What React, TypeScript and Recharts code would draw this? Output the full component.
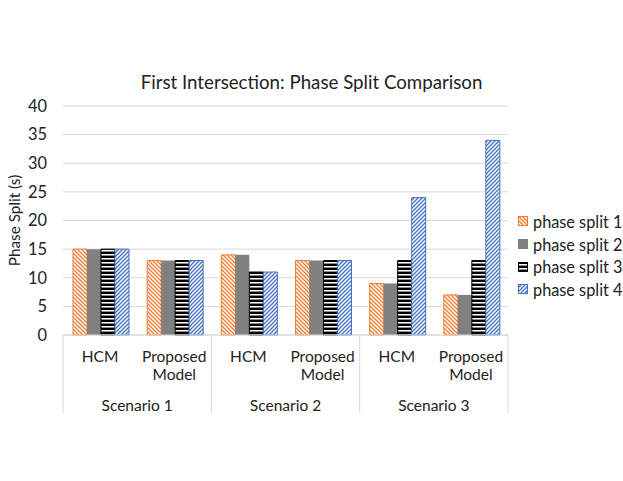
import React from "react";
import { BarChart, Bar, XAxis, YAxis, CartesianGrid } from "recharts";

const categories = ["HCM", "Proposed Model", "HCM", "Proposed Model", "HCM", "Proposed Model"];
const scenarios = ["Scenario 1", "Scenario 2", "Scenario 3"];
const phaseSplit1 = [15, 13, 14, 13, 9, 7];
const phaseSplit2 = [15, 13, 14, 13, 9, 7];
const phaseSplit3 = [15, 13, 11, 13, 13, 13];
const phaseSplit4 = [15, 13, 11, 13, 24, 34];
const yTicks = [0, 5, 10, 15, 20, 25, 30, 35, 40];
const seriesNames = ["phase split 1", "phase split 2", "phase split 3", "phase split 4"];

const data = categories.map((c, i) => ({
  name: c,
  scenario: scenarios[Math.floor(i / 2)],
  p1: phaseSplit1[i],
  p2: phaseSplit2[i],
  p3: phaseSplit3[i],
  p4: phaseSplit4[i],
}));

const W = 623;
const H = 481;
const PLOT_LEFT = 63;
const PLOT_RIGHT = 508;
const PLOT_TOP = 106;
const PLOT_BOTTOM = 335;
const BAND = (PLOT_RIGHT - PLOT_LEFT) / categories.length;
const FONT = "Lato, 'Open Sans', sans-serif";
const TEXT = "#222222";
const GRID = "#d9d9d9";
const ORANGE = "#ED7D31";
const BLUE = "#4472C4";

const Patterns = () => (
  <defs>
    <pattern id="pOrange" patternUnits="userSpaceOnUse" width="4" height="4">
      <rect width="4" height="4" fill="#fff" />
      <path d="M-1,-1 L5,5 M3,-1 L5,1 M-1,3 L1,5" stroke={ORANGE} strokeWidth="1.3" />
    </pattern>
    <pattern id="pBlue" patternUnits="userSpaceOnUse" width="4" height="4">
      <rect width="4" height="4" fill="#fff" />
      <path d="M-1,5 L5,-1 M-1,1 L1,-1 M3,5 L5,3" stroke={BLUE} strokeWidth="1.3" />
    </pattern>
    <pattern id="pBlack" patternUnits="userSpaceOnUse" width="4" height="4">
      <rect width="4" height="4" fill="#fff" />
      <rect y="0" width="4" height="2" fill="#000" />
      <rect y="3" width="4" height="1" fill="#888" />
    </pattern>
  </defs>
);

const CategoryTick = (props: any) => {
  const { x, payload, index } = props;
  const lines = String(payload.value).split(" ");
  const els: any[] = [];
  lines.forEach((ln, k) => {
    els.push(
      <text key={"t" + k} x={x} y={PLOT_BOTTOM + 27 + k * 18} textAnchor="middle" fill={TEXT} fontSize={15.5} fontFamily={FONT}>
        {ln}
      </text>
    );
  });
  if (index % 2 === 0) {
    els.push(
      <line key="l" x1={x - BAND / 2} x2={x - BAND / 2} y1={PLOT_BOTTOM} y2={PLOT_BOTTOM + 78} stroke={GRID} />
    );
    els.push(
      <text key="s" x={x + BAND / 2} y={PLOT_BOTTOM + 76} textAnchor="middle" fill={TEXT} fontSize={15.5} fontFamily={FONT}>
        {scenarios[Math.floor(index / 2)]}
      </text>
    );
  }
  if (index === categories.length - 1) {
    els.push(
      <line key="r" x1={x + BAND / 2} x2={x + BAND / 2} y1={PLOT_BOTTOM} y2={PLOT_BOTTOM + 78} stroke={GRID} />
    );
  }
  return <g>{els}</g>;
};

const legendFills = ["url(#pOrange)", "#808080", "url(#pBlack)", "url(#pBlue)"];
const legendStrokes = [ORANGE, "#808080", "#000", BLUE];

export default function App() {
  return (
    <div style={{ position: "absolute", left: 0, top: 0, width: W, height: H, background: "#fff", overflow: "hidden" }}>
      <div
        style={{
          position: "absolute",
          left: 0,
          width: W,
          top: 70,
          textAlign: "center",
          fontFamily: FONT,
          fontSize: 18.7,
          color: TEXT,
          lineHeight: "24px",
        }}
      >
        First Intersection: Phase Split Comparison
      </div>
      <BarChart
        width={W}
        height={H}
        data={data}
        margin={{ top: PLOT_TOP, right: W - PLOT_RIGHT, bottom: 56, left: 0 }}
        barCategoryGap={10}
        barGap={0}
      >
        <Patterns />
        <CartesianGrid vertical={false} stroke={GRID} />
        <XAxis
          dataKey="name"
          height={H - 56 - PLOT_BOTTOM}
          axisLine={{ stroke: GRID }}
          tickLine={false}
          interval={0}
          tick={<CategoryTick />}
        />
        <YAxis
          width={PLOT_LEFT}
          domain={[0, 40]}
          ticks={yTicks}
          axisLine={false}
          tickLine={false}
          tick={{ fill: TEXT, fontSize: 16.4, fontFamily: FONT }}
          tickMargin={10}
          label={{
            value: "Phase Split (s)",
            angle: -90,
            position: "insideLeft",
            dx: 10,
            fill: TEXT,
            fontSize: 15.3,
            fontFamily: FONT,
            style: { textAnchor: "middle" },
          }}
        />
        <Bar dataKey="p1" name={seriesNames[0]} fill="url(#pOrange)" stroke={ORANGE} strokeWidth={1} isAnimationActive={false} />
        <Bar dataKey="p2" name={seriesNames[1]} fill="#808080" isAnimationActive={false} />
        <Bar dataKey="p3" name={seriesNames[2]} fill="url(#pBlack)" stroke="#000" strokeWidth={1} isAnimationActive={false} />
        <Bar dataKey="p4" name={seriesNames[3]} fill="url(#pBlue)" stroke={BLUE} strokeWidth={1} isAnimationActive={false} />
      </BarChart>
      <div
        style={{
          position: "absolute",
          left: 518,
          top: 210,
          width: 105,
          whiteSpace: "nowrap",
          fontFamily: FONT,
          fontSize: 16.3,
          color: TEXT,
        }}
      >
        {seriesNames.map((n, i) => (
          <div key={n} style={{ display: "flex", alignItems: "center", height: 22.7, whiteSpace: "nowrap" }}>
            <svg width={10} height={10} style={{ marginRight: 5, flexShrink: 0 }}>
              <rect x={0.5} y={0.5} width={9} height={9} fill={legendFills[i]} stroke={legendStrokes[i]} strokeWidth={1} />
            </svg>
            <span>{n}</span>
          </div>
        ))}
      </div>
    </div>
  );
}
